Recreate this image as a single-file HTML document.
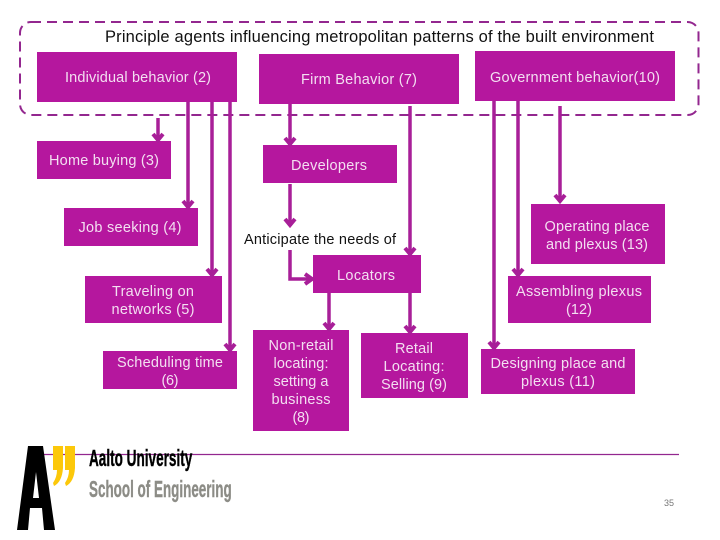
<!DOCTYPE html>
<html><head><meta charset="utf-8"><style>
html,body{margin:0;padding:0;background:#fff;width:720px;height:540px;overflow:hidden}
svg{display:block}
text{font-family:"Liberation Sans",sans-serif}
.w text{fill:#f3dff1;font-size:14.500px;text-anchor:middle}
</style></head><body>
<svg width="720" height="540" viewBox="0 0 720 540" xmlns="http://www.w3.org/2000/svg">
<rect width="720" height="540" fill="#fff"/>
<rect x="20" y="22" width="678.500" height="93" rx="11" fill="none" stroke="#93278f" stroke-width="2" stroke-dasharray="10 6"/>
<text x="105" y="42" font-size="16.500" fill="#111" textLength="549" lengthAdjust="spacing">Principle agents influencing metropolitan patterns of the built environment</text>

<g fill="#b5179e">
<rect x="37" y="52" width="200" height="50"/>
<rect x="259" y="54" width="200" height="50"/>
<rect x="475" y="51" width="200" height="50"/>
<rect x="37" y="141" width="134" height="38"/>
<rect x="64" y="208" width="134" height="38"/>
<rect x="263" y="145" width="134" height="38"/>
<rect x="531" y="204" width="134" height="60"/>
<rect x="313" y="255" width="108" height="38"/>
<rect x="85" y="276" width="137" height="47"/>
<rect x="508" y="276" width="143" height="47"/>
<rect x="103" y="351" width="134" height="38"/>
<rect x="253" y="330" width="96" height="101"/>
<rect x="361" y="333" width="107" height="65"/>
<rect x="481" y="349" width="154" height="45"/>
</g>

<g stroke="#a81f98" stroke-width="3.500" fill="none">
<path d="M158 118V141"/><path d="M188 102V208"/><path d="M212 102V276"/><path d="M230 102V351"/>
<path d="M290 104V145"/><path d="M290 184V226"/><path d="M290 250V279H313"/><path d="M410 106V255"/>
<path d="M329 293V330"/><path d="M410 293V333"/>
<path d="M494 101V349"/><path d="M518 101V276"/><path d="M560 106V202"/>
</g>
<g fill="none" stroke="#a81f98" stroke-width="4">
<path d="M153 134L158 140L163 134"/><path d="M183 201L188 207L193 201"/><path d="M207 269L212 275L217 269"/><path d="M225 344L230 350L235 344"/>
<path d="M285 138L290 144L295 138"/><path d="M285 219L290 225L295 219"/><path d="M305 274L312 279L305 284"/><path d="M405 248L410 254L415 248"/>
<path d="M324 323L329 329L334 323"/><path d="M405 326L410 332L415 326"/>
<path d="M489 342L494 348L499 342"/><path d="M513 269L518 275L523 269"/><path d="M555 195L560 201L565 195"/>
</g>

<g class="w">
<text x="138" y="82" textLength="146">Individual behavior (2)</text>
<text x="359" y="84" textLength="116">Firm Behavior (7)</text>
<text x="575" y="82" textLength="170">Government behavior(10)</text>
<text x="104" y="165" textLength="110">Home buying (3)</text>
<text x="130" y="232" textLength="103">Job seeking (4)</text>
<text x="329" y="170" textLength="76">Developers</text>
<text x="597" y="231" textLength="105">Operating place</text>
<text x="597" y="249" textLength="102">and plexus (13)</text>
<text x="366" y="280" textLength="58">Locators</text>
<text x="153" y="296" textLength="82">Traveling on</text>
<text x="153" y="314" textLength="83">networks (5)</text>
<text x="579" y="296" textLength="126">Assembling plexus</text>
<text x="579" y="314" textLength="26">(12)</text>
<text x="170" y="367" textLength="106">Scheduling time</text>
<text x="170" y="385" textLength="17">(6)</text>
<text x="301" y="350" textLength="65">Non-retail</text>
<text x="301" y="368" textLength="55">locating:</text>
<text x="301" y="386" textLength="55">setting a</text>
<text x="301" y="404" textLength="59">business</text>
<text x="301" y="422" textLength="17">(8)</text>
<text x="414" y="353" textLength="38">Retail</text>
<text x="414" y="371" textLength="61">Locating:</text>
<text x="414" y="389" textLength="66">Selling (9)</text>
<text x="558" y="368" textLength="135">Designing place and</text>
<text x="558" y="386" textLength="74">plexus (11)</text>
</g>
<text x="244" y="244" font-size="14.500" fill="#111" textLength="152">Anticipate the needs of</text>

<line x1="43" y1="454.500" x2="679" y2="454.500" stroke="#93278f" stroke-width="1.200"/>
<path d="M28 446H43L55 530H44L42 508H30L28 530H17ZM33 498H39L36 472Z" fill="#000" fill-rule="evenodd"/>
<path d="M53 446H63V468Q62 482 54 486L53 483Q57 477 57 470H53Z" fill="#fcc80a"/>
<path d="M65 446H75V468Q74 482 66 486L65 483Q69 477 69 470H65Z" fill="#fcc80a"/>
<text transform="translate(89 466) scale(.59 1)" font-size="23" font-weight="bold" fill="#000" stroke="#000" stroke-width=".4">Aalto University</text>
<text transform="translate(89 497) scale(.585 1)" font-size="23" font-weight="bold" fill="#8c8c86" stroke="#8c8c86" stroke-width=".4">School of Engineering</text>
<text x="664" y="506" font-size="9" fill="#777">35</text>
</svg>
</body></html>
